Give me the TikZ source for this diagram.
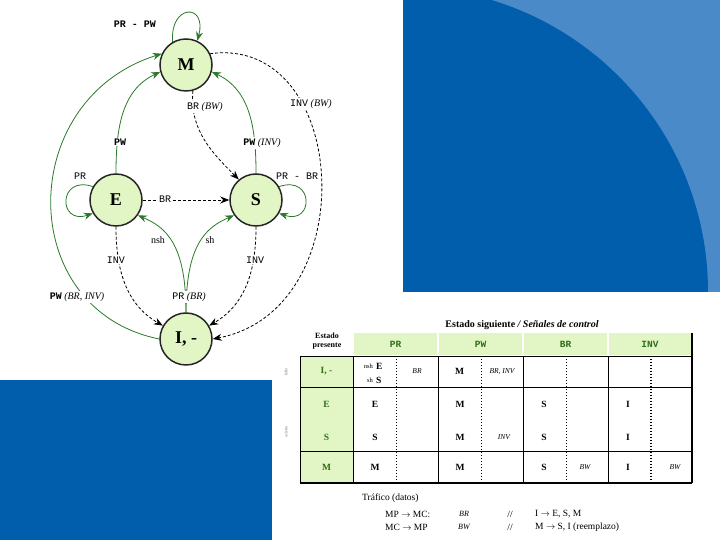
\documentclass[tikz,border=0pt]{standalone}
\usepackage{fontspec}
\setmainfont{Liberation Serif}
\setmonofont{Liberation Mono}
\usepackage{tikz}
\usetikzlibrary{arrows.meta,positioning}
\definecolor{darkblue}{HTML}{005EAD}
\definecolor{lightblue}{HTML}{4A8AC8}
\definecolor{nodefill}{HTML}{E2F5C5}
\definecolor{arcgreen}{HTML}{2A7A2A}
\definecolor{textgreen}{HTML}{2F6F1A}
\newcommand{\sig}[1]{\texttt{#1}}
\newcommand{\sigb}[1]{\texttt{\bfseries #1}}
\tikzset{
  state/.style={circle, draw=black!85, line width=1.5pt, fill=nodefill, minimum size=52pt, inner sep=0pt, font=\fontsize{18}{20}\selectfont\bfseries},
  arrow/.style={-{Stealth[length=9pt,width=7pt]}, draw=arcgreen, line width=0.8pt},
  dashedarrow/.style={-{Stealth[length=9pt,width=7pt]}, draw=black, line width=0.8pt, dash pattern=on 3pt off 2pt},
  lbl/.style={fill=white, inner sep=1pt, font=\fontsize{10}{12}\selectfont},
  hdr/.style={font=\fontsize{9.5}{11}\selectfont\ttfamily\bfseries, text=textgreen},
  rowhead/.style={font=\fontsize{9.5}{11}\selectfont\bfseries, text=textgreen},
  cell/.style={font=\fontsize{9.5}{11}\selectfont\bfseries, inner sep=1pt},
  ctl/.style={font=\fontsize{7.5}{9}\selectfont\itshape, inner sep=1pt},
  tiny/.style={font=\fontsize{6.5}{7}\selectfont, inner sep=1pt},
  tabline/.style={draw=black, line width=0.6pt},
  tabdash/.style={draw=black, line width=0.6pt, dash pattern=on 1.5pt off 1.5pt},
  traffic/.style={font=\fontsize{9.5}{11}\selectfont, inner sep=0pt}
}

\begin{document}
\begin{tikzpicture}[x=1pt,y=1pt]
  \useasboundingbox (0,0) rectangle (720,540);
  % background panels
  \fill[white] (0,0) rectangle (720,540);
  \fill[lightblue] (403,248) rectangle (720,540);
  \begin{scope}
    \clip (403,248) rectangle (720,540);
    \fill[darkblue] (403,248) circle[radius=305];
  \end{scope}
  \fill[darkblue] (0,0) rectangle (272,160);

  % states
  \node[state] (M) at (186,475) {M};
  \node[state] (E) at (116,340) {E};
  \node[state] (S) at (256,340) {S};
  \node[state] (I) at (186,201) {I, -};

  % transitions
  \draw[arrow] (M.120) .. controls +(-3,38) and +(10,38) .. (M.65);
  \draw[arrow] (E.150) .. controls +(-35,12) and +(-35,-12) .. (E.210);
  \draw[arrow] (S.30) .. controls +(35,12) and +(35,-12) .. (S.-30);
  \draw[arrow] (E.north) to[out=90,in=205] (M.195);
  \draw[arrow] (I.west) .. controls (15,230) and (15,440) .. (M.155);
  \draw[arrow] (S.north) to[out=90,in=-25] (M.-15);
  \draw[arrow] (I.north) .. controls +(0,68) and +(28,-12) .. (E.-35);
  \draw[arrow] (I.north) .. controls +(0,68) and +(-28,-12) .. (S.215);
  \draw[dashedarrow] (M.-75) to[out=-95,in=135] (S.130);
  \draw[dashedarrow] (M.25) .. controls (350,505) and (365,230) .. (I.east);
  \draw[dashedarrow] (E.east) -- (S.west);
  \draw[dashedarrow] (E.south) to[out=-90,in=150] (I.150);
  \draw[dashedarrow] (S.south) to[out=-90,in=30] (I.30);

  % transition labels
  \node[lbl] (lMM) at (135,516) {\sigb{PR - PW}};
  \node[lbl] (lEM) at (120,398) {\sigb{PW}};
  \node[lbl] (lIM) at (77,243) {\sigb{PW} \textit{(BR, INV)}};
  \node[lbl] (lSM) at (262,397) {\sigb{PW} \textit{(INV)}};
  \node[lbl] (lMS) at (205,433) {\sig{BR} \textit{(BW)}};
  \node[lbl] (lMI) at (311,436) {\sig{INV} \textit{(BW)}};
  \node[lbl] (lEE) at (80,364) {\sig{PR}};
  \node[lbl] (lSS) at (297,364) {\sig{PR - BR}};
  \node[lbl] (lES) at (165,341) {\sig{BR}};
  \node[lbl] (lIE) at (158,300) {nsh};
  \node[lbl] (lIS) at (210,300) {sh};
  \node[lbl] (lII) at (189,243) {\sig{PR} \textit{(BR)}};
  \node[lbl] (lEI) at (116,280) {\sig{INV}};
  \node[lbl] (lSI) at (255,280) {\sig{INV}};

  % table
  \fill[nodefill] (354,185) rectangle (437,207);
  \fill[nodefill] (439,185) rectangle (522,207);
  \fill[nodefill] (524,185) rectangle (607,207);
  \fill[nodefill] (609,185) rectangle (691,207);
  \fill[nodefill] (300,153) rectangle (353,184);
  \fill[nodefill] (300,89) rectangle (353,153);
  \fill[nodefill] (300,57) rectangle (353,89);
  \draw[tabline] (300,184) -- (692,184);
  \draw[tabline] (300,153) -- (692,153);
  \draw[tabline] (300,89) -- (692,89);
  \draw[tabline] (300,184) -- (300,57);
  \draw[tabline] (353,184) -- (353,57);
  \draw[tabline] (438,184) -- (438,57);
  \draw[tabline] (523,184) -- (523,57);
  \draw[tabline] (608,184) -- (608,57);
  \draw[tabdash] (396,184) -- (396,57);
  \draw[tabdash] (481,184) -- (481,57);
  \draw[tabdash] (566,184) -- (566,57);
  \draw[tabdash, line width=1.2pt] (651,184) -- (651,57);
  \draw[line width=1.6pt] (300,57) -- (692,57);
  \draw[line width=1.6pt] (692,207) -- (692,57);

  \node[font=\fontsize{10}{12}\selectfont\bfseries] (title) at (522,215) {Estado siguiente \textit{/ Señales de control}};
  \node[font=\fontsize{8}{9}\selectfont\bfseries, align=center] (present) at (327,199) {Estado\\presente};
  \node[font=\fontsize{4}{5}\selectfont, text=black!60, rotate=90] (fallo) at (286,168) {fallo};
  \node[font=\fontsize{4}{5}\selectfont, text=black!60, rotate=90] (acierto) at (286,108) {acierto};

  \node[hdr] (hPR) at (395.5,195.5) {PR};
  \node[hdr] (hPW) at (480.5,195.5) {PW};
  \node[hdr] (hBR) at (565.5,195.5) {BR};
  \node[hdr] (hINV) at (650,195.5) {INV};

  \node[rowhead] (rI) at (326.5,168.5) {I, -};
  \node[rowhead] (rE) at (326.5,136) {E};
  \node[rowhead] (rS) at (326.5,103) {S};
  \node[rowhead] (rM) at (326.5,73) {M};

  % row I
  \node[tiny, anchor=east] (cInsh) at (374,174) {nsh};
  \node[cell, anchor=west] (cIE) at (375,174) {E};
  \node[tiny, anchor=east] (cIsh) at (374,160) {sh};
  \node[cell, anchor=west] (cIS) at (375,160) {S};
  \node[ctl] (cIBR) at (417,168.5) {BR};
  \node[cell] (cIM) at (459.5,168.5) {M};
  \node[ctl] (cIBRINV) at (502,168.5) {BR, INV};
  % row E
  \node[cell] (cEE) at (375,136) {E};
  \node[cell] (cEM) at (460,136) {M};
  \node[cell] (cES) at (544,136) {S};
  \node[cell] (cEI) at (628,136) {I};
  % row S
  \node[cell] (cSS) at (375,103) {S};
  \node[cell] (cSM) at (460,103) {M};
  \node[ctl] (cSINV) at (504,103) {INV};
  \node[cell] (cSS2) at (544,103) {S};
  \node[cell] (cSI) at (628,103) {I};
  % row M
  \node[cell] (cMM) at (375,73) {M};
  \node[cell] (cMM2) at (460,73) {M};
  \node[cell] (cMS) at (544,73) {S};
  \node[ctl] (cMBW) at (585,73) {BW};
  \node[cell] (cMI) at (628,73) {I};
  \node[ctl] (cMBW2) at (675,73) {BW};

  % traffic
  \node[traffic, anchor=west] (traf) at (362,42) {Tráfico (datos)};
  \node[traffic, anchor=west] (t1a) at (385,26) {MP $\rightarrow$ MC:};
  \node[traffic, font=\fontsize{8}{9}\selectfont\itshape] (t1b) at (464,26) {BR};
  \node[traffic] (t1c) at (510,26) {//};
  \node[traffic, anchor=west] (t1d) at (535,26) {I $\rightarrow$ E, S, M};
  \node[traffic, anchor=west] (t2a) at (385,13) {MC $\rightarrow$ MP};
  \node[traffic, font=\fontsize{8}{9}\selectfont\itshape] (t2b) at (464,13) {BW};
  \node[traffic] (t2c) at (510,13) {//};
  \node[traffic, anchor=west] (t2d) at (535,13) {M $\rightarrow$ S, I (reemplazo)};
\end{tikzpicture}
\end{document}
